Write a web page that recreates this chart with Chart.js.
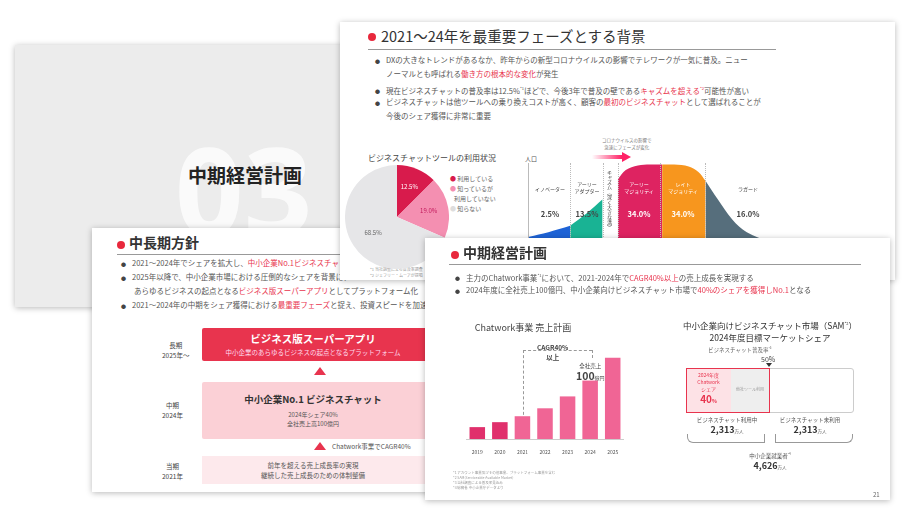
<!DOCTYPE html>
<html><head><meta charset="utf-8">
<script src="https://cdn.jsdelivr.net/npm/chart.js@4"></script>
<style>
body{margin:0;width:904px;height:516px;background:#fff;position:relative;overflow:hidden;font-family:"Noto Sans CJK JP","Noto Sans",sans-serif;color:#444}
.s{position:absolute;background:#fff;box-shadow:0 1px 6px rgba(0,0,0,.28);overflow:hidden}
.a{position:absolute;white-space:nowrap}
.r{color:#e8344e}
.dot{position:absolute;width:8px;height:8px;border-radius:50%;background:#e8283c}
.hl{position:absolute;height:1px;background:#999}
.b{font-size:7.5px;line-height:14px;color:#555}
.b:before{content:"●";font-size:5px;margin-right:6px;vertical-align:middle;color:#444}
canvas{position:absolute}
</style></head><body>
<!-- slide 1 -->
<div class="s" style="left:15px;top:45px;width:330px;height:262px;background:#ececec">
 <div class="a" style="left:160px;top:62px;font-size:120px;font-weight:bold;color:#fff;opacity:.75;font-family:'Noto Sans'">03</div>
 <div class="a" style="left:173px;top:116px;font-size:19px;font-weight:bold;color:#222">中期経営計画</div>
</div>
<!-- slide 3 -->
<div class="s" style="left:92px;top:228px;width:400px;height:264px">
 <div class="dot" style="left:25px;top:13px"></div>
 <div class="a" style="left:37px;top:4px;font-size:14px;color:#333;font-weight:bold">中長期方針</div>
 <div class="hl" style="left:25px;top:26px;width:370px"></div>
 <div class="a b" style="left:29px;top:28px">2021〜2024年でシェアを拡大し、<span class="r">中小企業No.1ビジネスチャット</span>の地位を確立</div>
 <div class="a b" style="left:29px;top:42px">2025年以降で、中小企業市場における圧倒的なシェアを背景に、</div>
 <div class="a" style="left:42px;top:56px;font-size:7.5px;line-height:14px;color:#555">あらゆるビジネスの起点となる<span class="r">ビジネス版スーパーアプリ</span>としてプラットフォーム化</div>
 <div class="a b" style="left:29px;top:70px">2021〜2024年の中期をシェア獲得における<span class="r">最重要フェーズ</span>と捉え、投資スピードを加速</div>
 <div class="a" style="left:70px;top:112px;font-size:6.5px;text-align:center;line-height:10px">長期<br>2025年〜</div>
 <div class="a" style="left:110px;top:100px;width:300px;height:33px;background:#e8344e;border-radius:2px"></div>
 <div class="a" style="left:110px;top:103px;width:222px;text-align:center;color:#fff;font-size:10.5px;font-weight:bold">ビジネス版スーパーアプリ</div>
 <div class="a" style="left:110px;top:119px;width:222px;text-align:center;color:#fde;font-size:6.5px">中小企業のあらゆるビジネスの起点となるプラットフォーム</div>
 <div class="a" style="left:222px;top:139px;width:0;height:0;border-left:6px solid transparent;border-right:6px solid transparent;border-bottom:8px solid #e8344e"></div>
 <div class="a" style="left:70px;top:172px;font-size:6.5px;text-align:center;line-height:10px">中期<br>2024年</div>
 <div class="a" style="left:110px;top:154px;width:300px;height:57px;background:#fbd0d6;border-radius:2px"></div>
 <div class="a" style="left:110px;top:164px;width:222px;text-align:center;color:#333;font-size:9.5px;font-weight:bold">中小企業No.1 ビジネスチャット</div>
 <div class="a" style="left:110px;top:182px;width:222px;text-align:center;color:#555;font-size:6px;line-height:9px">2024年シェア40%<br>全社売上高100億円</div>
 <div class="a" style="left:222px;top:214px;width:0;height:0;border-left:6px solid transparent;border-right:6px solid transparent;border-bottom:8px solid #e8344e"></div>
 <div class="a" style="left:240px;top:213px;font-size:6.5px;color:#555">Chatwork事業でCAGR40%</div>
 <div class="a" style="left:70px;top:233px;font-size:6.5px;text-align:center;line-height:10px">当期<br>2021年</div>
 <div class="a" style="left:110px;top:228px;width:300px;height:28px;background:#fde9ec"></div>
 <div class="a" style="left:110px;top:232px;width:222px;text-align:center;color:#555;font-size:6.5px;line-height:10px">前年を超える売上成長率の実現<br>継続した売上成長のための体制整備</div>
</div>
<!-- slide 2 -->
<div class="s" style="left:340px;top:22px;width:555px;height:258px">
 <div class="dot" style="left:28px;top:11px"></div>
 <div class="a" style="left:41px;top:3px;font-size:14.5px;color:#333">2021〜24年を最重要フェーズとする背景</div>
 <div class="hl" style="left:28px;top:27px;width:408px"></div>
 <div class="a b" style="left:35px;top:31px">DXの大きなトレンドがあるなか、昨年からの新型コロナウイルスの影響でテレワークが一気に普及。ニュー</div>
 <div class="a" style="left:46px;top:45px;font-size:7.5px;line-height:14px;color:#555">ノーマルとも呼ばれる<span class="r">働き方の根本的な変化</span>が発生</div>
 <div class="a b" style="left:35px;top:59px">現在ビジネスチャットの普及率は12.5%<sup style="font-size:4px">*1</sup>ほどで、今後3年で普及の壁である<span class="r">キャズムを超える</span><sup style="font-size:4px" class="r">*2</sup>可能性が高い</div>
 <div class="a b" style="left:35px;top:73px">ビジネスチャットは他ツールへの乗り換えコストが高く、顧客の<span class="r">最初のビジネスチャット</span>として選ばれることが</div>
 <div class="a" style="left:46px;top:87px;font-size:7.5px;line-height:14px;color:#555">今後のシェア獲得に非常に重要</div>
 <div class="a" style="left:28px;top:130px;font-size:8px;color:#444">ビジネスチャットツールの利用状況</div>
 <div class="a" style="left:110px;top:152px;font-size:6px;line-height:10px;color:#666"><span style="color:#d81b4c">●</span> 利用している<br><span style="color:#f48fb1">●</span> 知っているが<br>&nbsp;&nbsp;&nbsp;利用していない<br><span style="color:#ddd">●</span> 知らない</div>
 <div class="a" style="left:30px;top:244px;font-size:4px;color:#999;line-height:6px">*1 当社調査による普及率調査<br>*2 ジェフリー・ムーアが提唱</div>
 <div class="a" style="left:185px;top:132px;font-size:6px;color:#555">人口</div>
 <div class="a" style="left:262px;top:115px;font-size:4.5px;color:#777;text-align:center;line-height:7px">コロナウイルスの影響で<br>急速にフェーズが変化</div>
 <div class="a" style="left:252px;top:133px;width:30px;height:4px;background:linear-gradient(90deg,#fff,#f26)"></div>
 <div class="a" style="left:282px;top:130px;width:0;height:0;border-top:5px solid transparent;border-bottom:5px solid transparent;border-left:9px solid #f26"></div>
</div>
<canvas id="pie" style="left:345px;top:165px" width="104" height="104"></canvas>
<canvas id="bell" style="left:529px;top:160px" width="242" height="96"></canvas>
<div id="bellLabels"></div>
<!-- slide 4 -->
<div class="s" style="left:425px;top:238px;width:465px;height:262px">
 <div class="dot" style="left:26px;top:13px"></div>
 <div class="a" style="left:38px;top:4px;font-size:14px;color:#333;font-weight:bold">中期経営計画</div>
 <div class="hl" style="left:24px;top:26px;width:412px"></div>
 <div class="a b" style="left:30px;top:30px">主力のChatwork事業<sup style="font-size:4px">*1</sup>において、2021-2024年で<span class="r">CAGR40%以上</span>の売上成長を実現する</div>
 <div class="a b" style="left:30px;top:45px">2024年度に全社売上100億円、中小企業向けビジネスチャット市場で<span class="r">40%のシェアを獲得しNo.1</span>となる</div>
 <div class="a" style="left:48px;top:83px;width:100px;text-align:center;font-size:9px;color:#444">Chatwork事業 売上計画</div>
 <div class="a" style="left:112px;top:104px;font-size:6.5px;font-weight:bold;color:#444;text-align:center;line-height:10px">CAGR40%<br>以上</div>
 <div class="a" style="left:98px;top:112px;width:69px;height:1px;border-top:1px dashed #999"></div>
 <div class="a" style="left:98px;top:112px;width:0;height:70px;border-left:1px dashed #999"></div>
 <div class="a" style="left:167px;top:112px;width:0;height:8px;border-left:1px dashed #999"></div>
 <div class="a" style="left:151px;top:124px;font-size:5.5px;color:#444;text-align:center;line-height:9px">全社売上<br><b style="font-size:10.5px">100</b><span style="font-size:5px">億円</span></div>
 <div class="a" style="left:240px;top:79px;width:210px;text-align:center;font-size:8.5px;color:#333;line-height:12px">中小企業向けビジネスチャット市場（SAM<sup style="font-size:4px">*2</sup>）<br>2024年度目標マーケットシェア</div>
 <div class="a" style="left:283px;top:108px;font-size:5.5px;color:#666">ビジネスチャット普及率<sup style="font-size:3px">*3</sup></div>
 <div class="a" style="left:336px;top:116px;font-size:7px;color:#444">50%</div>
 <div class="a" style="left:341px;top:125px;border-left:3px solid transparent;border-right:3px solid transparent;border-top:4px solid #333"></div>
 <div class="a" style="left:261px;top:130px;width:166px;height:43px;border:1px solid #ccc;border-radius:3px"></div>
 <div class="a" style="left:261px;top:130px;width:44px;height:43px;background:#fde2e6;border:1px solid #e8344e;border-right:none"></div>
 <div class="a" style="left:306px;top:130px;width:38px;height:43px;background:#eee;border:1px solid #e8344e;border-left:none"></div>
 <div class="a" style="left:261px;top:133px;width:45px;text-align:center;font-size:5px;color:#e8344e;line-height:7px">2024年度<br>Chatwork<br>シェア<br><b style="font-size:10px;line-height:13px">40</b><b>%</b></div>
 <div class="a" style="left:306px;top:148px;width:38px;text-align:center;font-size:4px;color:#999">他社ツール利用</div>
 <div class="a" style="left:262px;top:178px;width:80px;text-align:center;font-size:5.5px;color:#555;line-height:9px">ビジネスチャット利用中<br><b style="font-size:9px;color:#333">2,313</b><span style="font-size:4.5px">万人</span></div>
 <div class="a" style="left:345px;top:178px;width:80px;text-align:center;font-size:5.5px;color:#555;line-height:9px">ビジネスチャット未利用<br><b style="font-size:9px;color:#333">2,313</b><span style="font-size:4.5px">万人</span></div>
 <div class="a" style="left:262px;top:196px;width:76px;height:8px;border:1px solid #999;border-top:none;border-radius:0 0 0 6px"></div>
 <div class="a" style="left:350px;top:196px;width:76px;height:8px;border:1px solid #999;border-top:none;border-radius:0 0 6px 0"></div>
 <div class="a" style="left:305px;top:212px;width:80px;text-align:center;font-size:5.5px;color:#555;line-height:9px">中小企業就業者<sup style="font-size:3px">*4</sup><br><b style="font-size:9px;color:#333">4,626</b><span style="font-size:4.5px">万人</span></div>
 <div class="a" style="left:28px;top:232px;font-size:3.5px;color:#999;line-height:5px">*1 アカウント事業及びその他事業、プラットフォーム事業を含む<br>*2 SAM(Serviceable Available Market)<br>*3 当社調査による普及率見込み<br>*4 総務省 中小企業庁データより</div>
 <div class="a" style="left:448px;top:252px;font-size:6px;color:#666">21</div>
</div>
<canvas id="bar" style="left:466px;top:335px" width="158" height="122"></canvas>
<script>
const years=["2019","2020","2021","2022","2023","2024","2025"];
const sales=[12,17,23,31,43,59,82];
const barColors=["#e0306c","#e0306c","#f06595","#f06595","#f06595","#f06595","#f06595"];
const pieLabels=["利用している","知っているが利用していない","知らない"];
const pieValues=[12.5,19.0,68.5];
const pieColors=["#d81b4c","#f48fb1","#e6e6e8"];
const segNames=["イノベーター","アーリー\nアダプター","アーリー\nマジョリティ","レイト\nマジョリティ","ラガード"];
const segShare=["2.5%","13.5%","34.0%","34.0%","16.0%"];
const segColors=["#1e63d6","#19b394","#de2361","#f7961e","#566e7c"];
const innovX=[0,8,17],innovY=[21,26,33];
const earlyX=[17,24,30.4],earlyY=[33,47,62];
const majX=[36.7,40,45,50,55],majY=[84,94,99,100,100];
const lateX=[55,60,66,70,73],lateY=[100,100,98,92,82];
const lagX=[73,78,84,90,100],lagY=[82,62,40,26,15];
Chart.defaults.font.family='"Noto Sans CJK JP","Noto Sans",sans-serif';
new Chart(document.getElementById('bar'),{type:'bar',data:{labels:years,datasets:[{data:sales,backgroundColor:barColors,categoryPercentage:0.86,barPercentage:0.8}]},
options:{responsive:false,animation:false,plugins:{legend:{display:false},tooltip:{enabled:false}},
scales:{y:{display:false,min:0,max:105},x:{grid:{display:false},border:{color:'#ccc'},ticks:{font:{size:5},color:'#555',padding:2}}}}});
const pieLbl={id:'pl',afterDatasetsDraw(c){const ctx=c.ctx;const m=c.getDatasetMeta(0);const pos=[0.62,0.62,0.55];
m.data.forEach((a,i)=>{const ang=(a.startAngle+a.endAngle)/2;const r=a.outerRadius*pos[i];ctx.save();ctx.fillStyle=i==0?'#fff':(i==1?'#c2185b':'#666');ctx.font='6px "Noto Sans CJK JP"';ctx.textAlign='center';ctx.textBaseline='middle';
ctx.fillText(pieValues[i].toFixed(1)+'%',a.x+Math.cos(ang)*r,a.y+Math.sin(ang)*r);ctx.restore();});}};
new Chart(document.getElementById('pie'),{type:'pie',data:{labels:pieLabels,datasets:[{data:pieValues,backgroundColor:pieColors,borderWidth:0}]},
options:{responsive:false,animation:false,plugins:{legend:{display:false},tooltip:{enabled:false}}},plugins:[pieLbl]});
const segs=[[innovX,innovY],[earlyX,earlyY],[majX,majY],[lateX,lateY],[lagX,lagY]];
new Chart(document.getElementById('bell'),{type:'line',data:{datasets:segs.map((s,i)=>({data:s[0].map((x,j)=>({x:x,y:s[1][j]})),borderWidth:0,pointRadius:0,tension:0.35,fill:'origin',backgroundColor:segColors[i]}))},
options:{responsive:false,animation:false,layout:{padding:0},plugins:{legend:{display:false},tooltip:{enabled:false}},
scales:{x:{type:'linear',min:0,max:100,display:false},y:{min:0,max:105,display:false}}}});
const L=document.getElementById('bellLabels');
const cx=[550,587,639,683,748];
let h='';segNames.forEach((n,i)=>{const c=(i>=2&&i<4)?'#fff':'#444';h+=`<div class="a" style="left:${cx[i]-25}px;top:${n.includes('\n')?180:185}px;width:50px;text-align:center;font-size:5px;line-height:7px;color:${c}">${n.replace('\n','<br>')}</div>`;
h+=`<div class="a" style="left:${cx[i]-25}px;top:208px;width:50px;text-align:center;font-size:7.5px;font-weight:bold;color:${c}">${segShare[i]}</div>`;});
h+=`<div class="a" style="left:528px;top:163px;width:0;height:80px;border-left:1px solid #bbb"></div>`;
[570,603,618,660,705].forEach(x=>{h+=`<div class="a" style="left:${x}px;top:163px;width:0;height:80px;border-left:1px dotted #bbb"></div>`});
h+=`<div class="a" style="left:605px;top:170px;font-size:5px;writing-mode:vertical-rl;color:#444;line-height:8px">キャズム（深く大きな溝）</div>`;
L.innerHTML=h;
</script>
</body></html>
